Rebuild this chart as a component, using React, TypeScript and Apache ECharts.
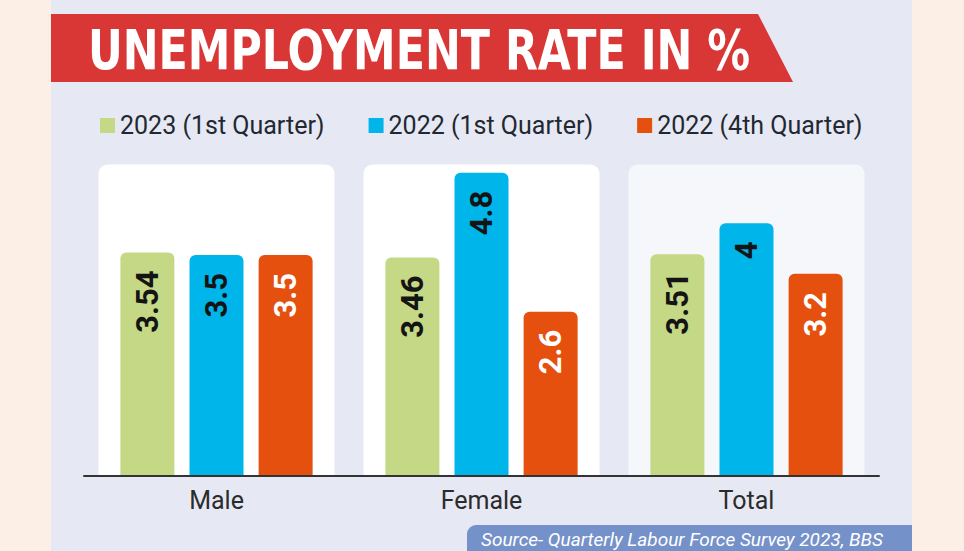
import React, { useEffect, useRef } from "react";
import * as echarts from "echarts";

const categories = ["Male", "Female", "Total"];
const seriesNames = ["2023 (1st Quarter)", "2022 (1st Quarter)", "2022 (4th Quarter)"];
const q1_2023 = [3.54, 3.46, 3.51];
const q1_2022 = [3.5, 4.8, 4];
const q4_2022 = [3.5, 2.6, 3.2];
const panelHeights = [4.93, 4.93, 4.93];
const panelColors = ["#ffffff", "#ffffff", "#f5f7fb"];
const seriesColors = ["#c5d886", "#00b5ea", "#e5500f"];
const labelColors = ["#141414", "#141414", "#ffffff"];
const titleText = "UNEMPLOYMENT RATE IN %";
const sourceText = "Source- Quarterly Labour Force Survey 2023, BBS";

const condensed = "'DejaVu Sans Condensed', 'DejaVu Sans', sans-serif";

export default function App() {
  const ref = useRef<HTMLDivElement>(null);
  useEffect(() => {
    if (!ref.current) return;
    const chart = echarts.init(ref.current, null, { renderer: "svg" });
    const values = [q1_2023, q1_2022, q4_2022];
    const barSeries = values.map((arr, i) => ({
      name: seriesNames[i],
      type: "bar",
      xAxisIndex: 0,
      yAxisIndex: 0,
      data: arr,
      barWidth: 54,
      barGap: "28%",
      z: 3,
      itemStyle: { color: seriesColors[i], borderRadius: [6, 6, 0, 0] },
      label: {
        show: true,
        position: "insideTop",
        rotate: 90,
        align: "right",
        verticalAlign: "middle",
        distance: 18,
        fontSize: 31,
        fontWeight: "bold",
        fontFamily: "Roboto, sans-serif",
        color: labelColors[i],
      },
    }));
    chart.setOption({
      animation: false,
      backgroundColor: "#fcefe6",
      graphic: [
        { type: "rect", shape: { x: 51, y: 0, width: 861, height: 551 }, style: { fill: "#e6e8f4" }, z: -10 },
        {
          type: "polygon",
          shape: { points: [[51, 14], [758, 14], [793, 82], [51, 82]] },
          style: { fill: "#d93636" },
          z: -5,
        },
        {
          type: "text",
          x: 88,
          y: 50,
          scaleX: 0.85,
          style: {
            text: titleText,
            fill: "#ffffff",
            fontSize: 56,
            fontWeight: "bold",
            fontFamily: condensed,
            verticalAlign: "middle",
            align: "left",
          },
          z: 5,
        },
        {
          type: "rect",
          shape: { x: 467, y: 525, width: 445, height: 30, r: [9, 0, 0, 0] },
          style: { fill: "#7591c9" },
          z: 5,
        },
        {
          type: "text",
          x: 481,
          y: 539,
          style: {
            text: sourceText,
            fill: "#ffffff",
            fontSize: 19,
            fontStyle: "italic",
            fontFamily: "Roboto, sans-serif",
            verticalAlign: "middle",
            align: "left",
          },
          z: 6,
        },
      ],
      legend: {
        left: 95,
        top: 108,
        itemWidth: 15,
        itemHeight: 15,
        itemGap: 44,
        icon: "rect",
        data: seriesNames,
        textStyle: { fontSize: 25, color: "#222831", fontFamily: "Roboto, sans-serif" },
      },
      grid: { left: 84, width: 795, top: 97, bottom: 75 },
      xAxis: [
        {
          type: "category",
          data: categories,
          z: 6,
          axisLine: { lineStyle: { color: "#333333", width: 2 } },
          axisTick: { show: false },
          axisLabel: { fontSize: 25, color: "#2b2b2b", margin: 12, fontFamily: "Roboto, sans-serif" },
        },
        { type: "category", data: categories, show: false },
      ],
      yAxis: { type: "value", min: 0, max: 6, show: false, splitLine: { show: false } },
      series: [
        {
          name: "panel",
          type: "bar",
          xAxisIndex: 1,
          yAxisIndex: 0,
          silent: true,
          barWidth: 236,
          z: 1,
          data: panelHeights.map((v, i) => ({ value: v, itemStyle: { color: panelColors[i] } })),
          itemStyle: { borderRadius: [9, 9, 0, 0] },
        },
        ...barSeries,
      ],
    });
    return () => chart.dispose();
  }, []);
  return <div ref={ref} style={{ position: "fixed", left: 0, top: 0, width: 964, height: 551 }} />;
}
